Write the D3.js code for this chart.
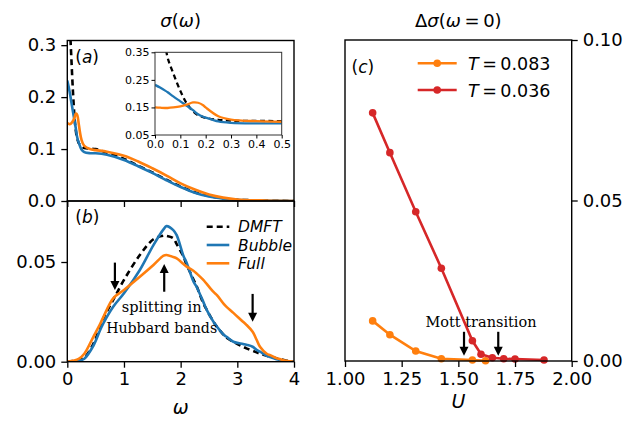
<!DOCTYPE html>
<html><head><meta charset="utf-8">
<script src="https://cdn.jsdelivr.net/npm/d3@7"></script>
<style>body{margin:0;background:#fff}svg{display:block;font-family:"DejaVu Sans",sans-serif}</style>
</head><body><svg id="c" width="632" height="422"></svg>
<script>
// ---------- data ----------
// panel (a): conductivity, full frequency range
const omegaA  = [0,0.02,0.04,0.05,0.072,0.1,0.125,0.15,0.17,0.19,0.2,0.25,0.3,0.4,0.5,0.7,1.0,1.25,1.5,1.75,2.0,2.25,2.5,2.75,3.0,3.5,4.0];
const dmftA   = [0.60,0.47,0.38,0.33,0.274,0.21,0.165,0.136,0.122,0.115,0.112,0.105,0.102,0.101,0.100,0.093,0.081,0.068,0.055,0.041,0.028,0.017,0.0095,0.005,0.0025,0.0008,0];
const bubbleA = [0.232,0.222,0.211,0.205,0.19,0.172,0.156,0.14,0.125,0.116,0.113,0.099,0.094,0.092,0.092,0.089,0.079,0.067,0.054,0.040,0.027,0.016,0.0085,0.0045,0.0022,0.0006,0];
const fullA   = [0.150,0.149,0.148,0.148,0.150,0.154,0.160,0.168,0.167,0.158,0.150,0.118,0.106,0.100,0.098,0.095,0.087,0.076,0.063,0.049,0.034,0.022,0.0125,0.0065,0.003,0.0009,0];
// panel (b)
const omegaB  = [0,0.2,0.3,0.46,0.58,0.64,0.81,1.0,1.28,1.52,1.70,1.75,1.87,1.93,2.05,2.1,2.23,2.28,2.4,2.46,2.58,2.64,2.76,2.81,2.93,3.1,3.16,3.27,3.34,3.4,3.52,3.58,3.69,3.75,3.87,3.93,4.0];
const dmftB   = [0,0.0008,0.002,0.009,0.0176,0.022,0.031,0.041,0.0535,0.0614,0.0632,0.0631,0.0619,0.059,0.0527,0.049,0.041,0.038,0.0293,0.026,0.020,0.0175,0.0134,0.012,0.010,0.0075,0.0067,0.0055,0.0047,0.004,0.003,0.0025,0.0017,0.0013,0.0005,0.0003,0];
const bubbleB = [0,0.0004,0.0015,0.008,0.0159,0.0195,0.0276,0.0343,0.046,0.0585,0.0665,0.068,0.066,0.0635,0.053,0.050,0.040,0.0376,0.030,0.026,0.020,0.0176,0.0135,0.0125,0.010,0.0089,0.0085,0.0075,0.0059,0.005,0.003,0.0023,0.0012,0.0008,0.0002,0.0001,0];
const fullB   = [0,0.0014,0.004,0.0125,0.019,0.0226,0.0318,0.036,0.0426,0.0485,0.0532,0.0535,0.0525,0.0518,0.049,0.0478,0.0455,0.0443,0.041,0.039,0.035,0.0334,0.029,0.0275,0.0245,0.020,0.0185,0.015,0.011,0.0075,0.004,0.0033,0.0018,0.0013,0.0004,0.0002,0];
// panel (c)
const uRed    = [1.122,1.198,1.312,1.425,1.562,1.60,1.65,1.70,1.75,1.878];
const dsRed   = [0.0773,0.0649,0.0465,0.0289,0.0063,0.0021,0.0010,0.0007,0.0006,0.0003];
const uOrange = [1.122,1.198,1.312,1.425,1.562,1.62];
const dsOrange= [0.0125,0.0082,0.0031,0.0007,0.0003,0.0001];
const seriesNames = ["DMFT","Bubble","Full"];
const tempLabels  = ["0.083","0.036"];
const ticksA = [0,0.1,0.2,0.3];
const ticksB = [0,0.05];
const ticksOmega = [0,1,2,3,4];
const ticksInsetX = [0,0.1,0.2,0.3,0.4,0.5];
const ticksInsetY = [0.05,0.15,0.25,0.35];
const ticksU = [1.00,1.25,1.50,1.75,2.00];
const ticksDs = [0,0.05,0.10];

// ---------- setup ----------
const C = {blue:"#1f77b4", orange:"#ff7f0e", red:"#d62728", black:"#000"};
const SERIF = '"DejaVu Serif", serif';
const svg = d3.select("#c");
const defs = svg.append("defs");

const x = d3.scaleLinear().domain([0,4]).range([67.3,294]);
const yA = d3.scaleLinear().domain([0,0.309]).range([201,40.5]);
const yB = d3.scaleLinear().domain([0,0.0806]).range([361.7,201]);
const xI = d3.scaleLinear().domain([0,0.5]).range([155,281.7]);
const yI = d3.scaleLinear().domain([0.05,0.35]).range([135,52.3]);
const xU = d3.scaleLinear().domain([1,2]).range([345,571.7]);
const yD = d3.scaleLinear().domain([0,0.1]).range([361,40]);

function clip(id,x0,y0,w,h){defs.append("clipPath").attr("id",id).append("rect").attr("x",x0).attr("y",y0).attr("width",w).attr("height",h);}
clip("ca",67.3,40.5,226.7,160.5);
clip("cb",67.3,201,226.7,160.7);
clip("ci",155,52.3,126.7,82.7);

function styleAxis(g,fs){
  g.selectAll(".domain").remove();
  g.selectAll(".tick line").attr("stroke","#000").attr("stroke-width",1.3);
  g.selectAll(".tick text").attr("font-size",fs).attr("font-family","DejaVu Sans").attr("fill","#000");
}
function drawLine(sx,sy,xs,ys,color,dash,cl,w){
  const line = d3.line().x(i=>sx(xs[i])).y(i=>sy(ys[i])).curve(d3.curveCatmullRom.alpha(0.5));
  svg.append("path").attr("d",line(d3.range(xs.length))).attr("fill","none")
    .attr("stroke",color).attr("stroke-width",w||2.6).attr("stroke-dasharray",dash||null)
    .attr("clip-path",cl?`url(#${cl})`:null).attr("stroke-linejoin","round");
}
function arrow(x1,y1,x2,y2){
  const dir = Math.sign(y2-y1), hl=9, hw=4.5;
  svg.append("line").attr("x1",x1).attr("y1",y1).attr("x2",x2).attr("y2",y2-dir*hl+dir*1)
    .attr("stroke","#000").attr("stroke-width",2.2);
  svg.append("path").attr("d",`M${x2},${y2} L${x2-hw},${y2-dir*hl} L${x2+hw},${y2-dir*hl} Z`).attr("fill","#000");
}
function serifText(xp,yp,len,str){
  svg.append("text").attr("x",xp).attr("y",yp).attr("text-anchor","middle").style("font-family",SERIF)
    .attr("font-size",14).attr("textLength",len).attr("lengthAdjust","spacingAndGlyphs").text(str);
}

// ---------- panel (a) ----------
drawLine(x,yA,omegaA,dmftA,C.black,"6,4","ca");
drawLine(x,yA,omegaA,bubbleA,C.blue,null,"ca");
drawLine(x,yA,omegaA,fullA,C.orange,null,"ca");
svg.append("g").attr("transform","translate(67.3,0)").call(d3.axisLeft(yA).tickValues(ticksA).tickFormat(d3.format(".1f")).tickSize(6).tickPadding(5)).call(g=>styleAxis(g,18));
svg.append("g").attr("transform","translate(0,201)").call(d3.axisBottom(x).tickValues(ticksOmega).tickFormat("").tickSize(6)).call(g=>styleAxis(g,18));
svg.append("rect").attr("x",67.3).attr("y",40.5).attr("width",226.7).attr("height",160.5).attr("fill","none").attr("stroke","#000").attr("stroke-width",1.4);
svg.append("text").attr("x",x(0.14)).attr("y",yA(0.265)).attr("font-size",17).html('(<tspan font-style="italic">a</tspan>)');

// inset
svg.append("rect").attr("x",155).attr("y",52.3).attr("width",126.7).attr("height",82.7).attr("fill","#fff");
drawLine(xI,yI,omegaA,dmftA,C.black,"5,3.5","ci",2.3);
drawLine(xI,yI,omegaA,bubbleA,C.blue,null,"ci",2.3);
drawLine(xI,yI,omegaA,fullA,C.orange,null,"ci",2.3);
svg.append("rect").attr("x",155).attr("y",52.3).attr("width",126.7).attr("height",82.7).attr("fill","none").attr("stroke","#333").attr("stroke-width",1);
svg.append("g").attr("transform","translate(155,0)").call(d3.axisLeft(yI).tickValues(ticksInsetY).tickFormat(d3.format(".2f")).tickSize(3.5).tickPadding(2)).call(g=>styleAxis(g,11)).call(g=>g.selectAll(".tick line").attr("stroke-width",1));
svg.append("g").attr("transform","translate(0,135)").call(d3.axisBottom(xI).tickValues(ticksInsetX).tickFormat(d3.format(".1f")).tickSize(3.5).tickPadding(2)).call(g=>styleAxis(g,11)).call(g=>g.selectAll(".tick line").attr("stroke-width",1));

// ---------- panel (b) ----------
drawLine(x,yB,omegaB,dmftB,C.black,"6,4","cb");
drawLine(x,yB,omegaB,bubbleB,C.blue,null,"cb");
drawLine(x,yB,omegaB,fullB,C.orange,null,"cb");
svg.append("g").attr("transform","translate(67.3,0)").call(d3.axisLeft(yB).tickValues(ticksB).tickFormat(d3.format(".2f")).tickSize(6).tickPadding(5)).call(g=>styleAxis(g,18));
svg.append("g").attr("transform","translate(0,361.7)").call(d3.axisBottom(x).tickValues(ticksOmega).tickFormat(d3.format("d")).tickSize(6).tickPadding(5)).call(g=>styleAxis(g,18));
svg.append("rect").attr("x",67.3).attr("y",201).attr("width",226.7).attr("height",160.7).attr("fill","none").attr("stroke","#000").attr("stroke-width",1.4);
svg.append("text").attr("x",x(0.14)).attr("y",yB(0.0695)).attr("font-size",17).html('(<tspan font-style="italic">b</tspan>)');
// legend (b)
const legB = [[C.black,"6,4"],[C.blue,null],[C.orange,null]];
seriesNames.forEach((n,i)=>{
  const cy = 226.7 + i*18.3;
  svg.append("line").attr("x1",206.7).attr("x2",229.3).attr("y1",cy).attr("y2",cy).attr("stroke",legB[i][0]).attr("stroke-width",2.6).attr("stroke-dasharray",legB[i][1]);
  svg.append("text").attr("x",238).attr("y",cy+5.5).attr("font-size",15.5).attr("font-style","italic").text(n);
});
// annotations (b)
arrow(x(0.84),yB(0.0497),x(0.84),yB(0.036));
arrow(x(1.71),yB(0.0351),x(1.71),yB(0.049));
arrow(x(3.27),yB(0.034),x(3.27),yB(0.020));
serifText(x(1.665),yB(0.0251),80,"splitting in");
serifText(x(1.665),yB(0.01455),111,"Hubbard bands");
// x label & title
svg.append("text").attr("x",x(2)).attr("y",414).attr("text-anchor","middle").attr("font-size",19).attr("font-style","italic").text("ω");
svg.append("text").attr("x",x(2)).attr("y",27).attr("text-anchor","middle").attr("font-size",18).html('<tspan font-style="italic">σ</tspan>(<tspan font-style="italic">ω</tspan>)');

// ---------- panel (c) ----------
function series(us,vs,color){
  svg.append("path").attr("d",d3.line().x(i=>xU(us[i])).y(i=>yD(vs[i]))(d3.range(us.length))).attr("fill","none").attr("stroke",color).attr("stroke-width",2.6);
  svg.selectAll(null).data(d3.range(us.length)).enter().append("circle").attr("cx",i=>xU(us[i])).attr("cy",i=>yD(vs[i])).attr("r",3.8).attr("fill",color);
}
series(uOrange,dsOrange,C.orange);
series(uRed,dsRed,C.red);
svg.append("rect").attr("x",345).attr("y",40).attr("width",226.7).attr("height",321).attr("fill","none").attr("stroke","#000").attr("stroke-width",1.4);
svg.append("g").attr("transform","translate(0,361)").call(d3.axisBottom(xU).tickValues(ticksU).tickFormat(d3.format(".2f")).tickSize(6).tickPadding(5)).call(g=>styleAxis(g,18));
svg.append("g").attr("transform","translate(571.7,0)").call(d3.axisRight(yD).tickValues(ticksDs).tickFormat(d3.format(".2f")).tickSize(6).tickPadding(5)).call(g=>styleAxis(g,18));
svg.append("text").attr("x",351.5).attr("y",73).attr("font-size",17).html('(<tspan font-style="italic">c</tspan>)');
[C.orange,C.red].forEach((col,i)=>{
  const cy = 63.3 + i*26.7;
  svg.append("line").attr("x1",417.7).attr("x2",456.7).attr("y1",cy).attr("y2",cy).attr("stroke",col).attr("stroke-width",2.6);
  svg.append("circle").attr("cx",437.2).attr("cy",cy).attr("r",3.8).attr("fill",col);
  svg.append("text").attr("x",468).attr("y",cy+6.5).attr("font-size",17.5).html(`<tspan font-style="italic">T</tspan>\u2009=\u2009${tempLabels[i]}`);
});
arrow(xU(1.525),yD(0.0091),xU(1.525),yD(0.0016));
arrow(xU(1.676),yD(0.0091),xU(1.676),yD(0.0016));
serifText(xU(1.60),yD(0.0107),111,"Mott transition");
svg.append("text").attr("x",xU(1.5)).attr("y",408).attr("text-anchor","middle").attr("font-size",19).attr("font-style","italic").text("U");
svg.append("text").attr("x",xU(1.5)).attr("y",27).attr("text-anchor","middle").attr("font-size",18).html('Δ<tspan font-style="italic">σ</tspan>(<tspan font-style="italic">ω</tspan>\u2009=\u20090)');
</script></body></html>
